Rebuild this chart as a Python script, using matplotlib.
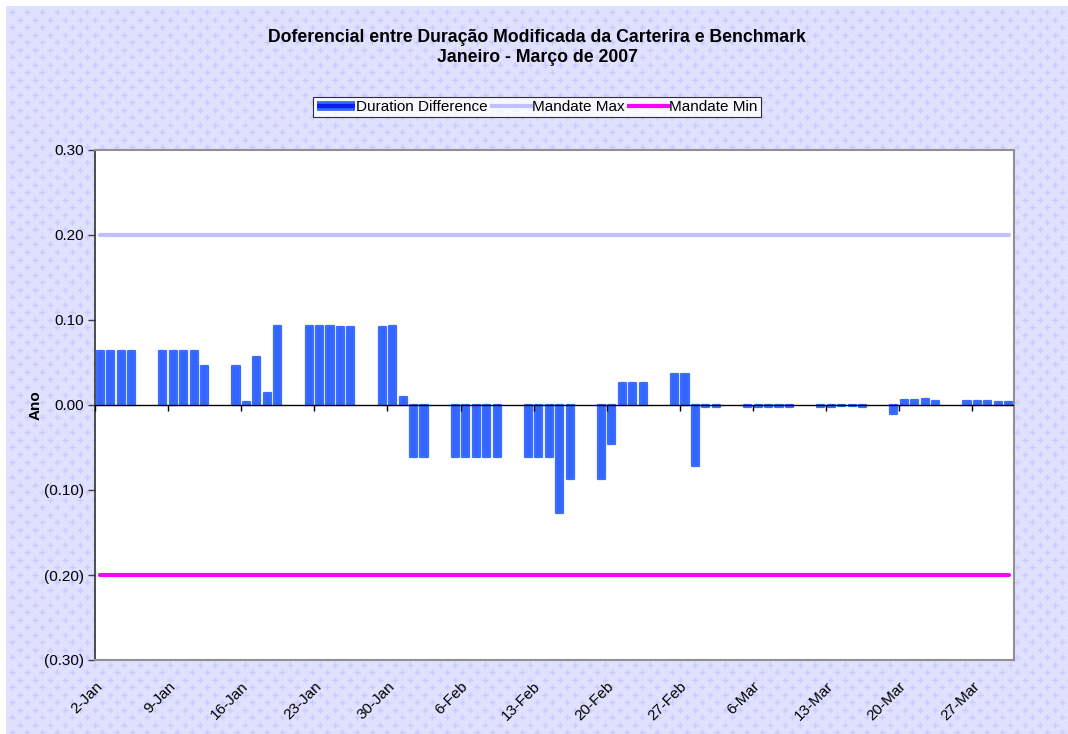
import numpy as np
import pandas as pd
import matplotlib
matplotlib.use("Agg")
import matplotlib.pyplot as plt
import matplotlib.dates as mdates
import matplotlib.patheffects as pe
from matplotlib.lines import Line2D
from matplotlib.patches import Rectangle
from matplotlib.ticker import FuncFormatter

plt.rcParams['font.family'] = ['Liberation Sans', 'DejaVu Sans']

# business days, 2 Jan - 30 Mar 2007
dates = pd.bdate_range('2007-01-02', '2007-03-30')
duration_diff = [
    0.064, 0.064, 0.064, 0.064,
    0.064, 0.064, 0.064, 0.064, 0.046,
    0.046, 0.003, 0.057, 0.014, 0.093,
    0.093, 0.093, 0.093, 0.092, 0.092,
    0.092, 0.093, 0.009,
    -0.061, -0.061,
    -0.061, -0.061, -0.061, -0.061, -0.061,
    -0.061, -0.061, -0.061, -0.127, -0.087,
    -0.087, -0.046, 0.026, 0.026, 0.026,
    0.036, 0.036, -0.072,
    -0.002, -0.002,
    -0.002, -0.002, -0.002, -0.002, -0.002,
    -0.002, -0.002, -0.001, -0.001, -0.002,
    -0.011, 0.006, 0.006, 0.007, 0.005,
    0.005, 0.005, 0.005, 0.004, 0.004,
]
mandate_max = [0.20] * len(dates)
mandate_min = [-0.20] * len(dates)
tick_dates = pd.date_range('2007-01-02', '2007-03-27', freq='7D')

W, H = 1068, 734
fig = plt.figure(figsize=(W / 100, H / 100), dpi=100, facecolor='white')

# patterned chart background (Excel style)
fig.add_artist(Rectangle((6 / W, 0), 1 - 6 / W, 1 - 6 / H, transform=fig.transFigure,
                         facecolor='#E0E0FF', edgecolor='none', zorder=-10))
gx, gy = np.meshgrid(np.arange(12, W, 15), np.arange(12, H, 15))
for off in (0, 7.5):
    fig.add_artist(Line2D((gx.ravel() + off) / W, 1 - (gy.ravel() + off) / H,
                          transform=fig.transFigure, ls='none', marker='+', ms=4,
                          mew=1.0, color='#CACAFF', zorder=-9))

ax = fig.add_axes([95 / W, 1 - 660 / H, (1014 - 95) / W, (660 - 150) / H])
ax.set_facecolor('white')

x = mdates.date2num(dates) + 0.5
ax.bar(x, duration_diff, width=0.68, color='#3366FF', edgecolor='#3A6CFF',
       linewidth=1.6, joinstyle='round', zorder=3, label='Duration Difference')
ax.plot(x, mandate_max, color='#C0C0FF', lw=3, solid_capstyle='round', zorder=4)
ax.plot(x, mandate_min, color='#FF00FF', lw=3, solid_capstyle='round', zorder=4)

ax.axhline(0, color='black', lw=1, zorder=5)
ax.plot(mdates.date2num(tick_dates), np.zeros(len(tick_dates)), ls='none',
        marker=3, ms=4, mew=1, color='black', zorder=5)

ax.set_xlim(mdates.date2num(pd.Timestamp('2007-01-02')), mdates.date2num(pd.Timestamp('2007-03-31')))
ax.set_ylim(-0.30, 0.30)
ax.set_yticks(np.arange(-0.30, 0.31, 0.10))
ax.yaxis.set_major_formatter(FuncFormatter(lambda v, p: f"({abs(v):.2f})" if v < -1e-9 else f"{abs(v):.2f}"))
ax.tick_params(axis='y', length=5, width=1, labelsize=11, pad=3, color='#404040')

ax.set_xticks(mdates.date2num(tick_dates))
ax.set_xticklabels([f"{d.day}-{d.strftime('%b')}" for d in tick_dates], rotation=45,
                   ha='right', rotation_mode='anchor', fontsize=11)
ax.tick_params(axis='x', length=0, pad=14)

for s in ['top', 'right', 'bottom']:
    ax.spines[s].set_color('#909090')
    ax.spines[s].set_linewidth(1.5)
ax.spines['left'].set_color('#303030')
ax.spines['left'].set_linewidth(1.2)

ax.set_ylabel('Ano', fontsize=11, fontweight='bold', labelpad=1)

fig.text(537 / W, 1 - 37 / H, 'Doferencial entre Duração Modificada da Carterira e Benchmark',
         ha='center', va='center', fontsize=12.7, fontweight='bold')
fig.text(537 / W, 1 - 58 / H, 'Janeiro - Março de 2007',
         ha='center', va='center', fontsize=12.7, fontweight='bold')

h_dd = Line2D([], [], color='#0A1EE6', lw=3, solid_capstyle='butt',
              path_effects=[pe.Stroke(linewidth=7, foreground='#3366FF'), pe.Normal()])
h_max = Line2D([], [], color='#C0C0FF', lw=3)
h_min = Line2D([], [], color='#FF00FF', lw=3)
leg = fig.legend([h_dd, h_max, h_min], ['Duration Difference', 'Mandate Max', 'Mandate Min'],
                 loc='center', bbox_to_anchor=(537 / W, 1 - 107 / H), ncol=3, fontsize=11,
                 frameon=True, fancybox=False, handlelength=2.5, handletextpad=0.1,
                 columnspacing=0.3, borderpad=0.2, borderaxespad=0)
leg.get_frame().set_edgecolor('black')
leg.get_frame().set_linewidth(0.8)
leg.get_frame().set_facecolor('white')

fig.savefig('out.png', dpi=100, facecolor=fig.get_facecolor())
